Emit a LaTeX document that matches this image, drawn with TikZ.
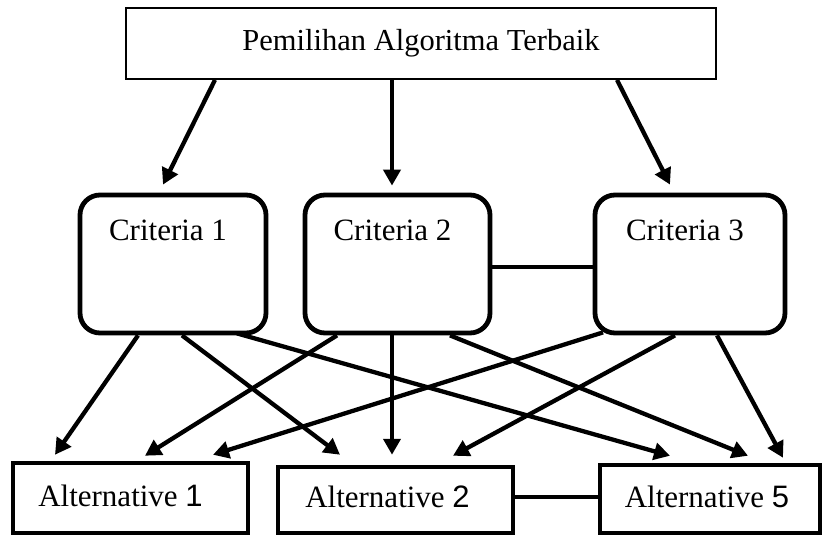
\documentclass[tikz,border=0pt]{standalone}
\usepackage{fontspec}
\setmainfont{Liberation Serif}
\newfontfamily\arialdig{Liberation Sans}
\usetikzlibrary{arrows.meta,calc}
\tikzset{
  topbox/.style={draw=black, line width=1.8pt, rectangle, minimum width=590pt, minimum height=71pt, inner sep=0pt, font=\fontsize{30.5}{36}\selectfont},
  critbox/.style={draw=black, line width=4.8pt, rectangle, rounded corners=20pt, minimum height=138pt, inner sep=0pt},
  altbox/.style={draw=black, line width=4.5pt, rectangle, inner sep=0pt},
  boxlabel/.style={anchor=center, inner sep=0pt, font=\fontsize{31}{36}\selectfont},
  arr/.style={line width=4.3pt, -{Triangle[length=16pt,width=17pt]}},
  link/.style={line width=4pt}
}
\begin{document}
\begin{tikzpicture}[x=1pt,y=-1pt]
\useasboundingbox (0,0) rectangle (823,536);
\node[topbox] (top) at (421,43.5) {Pemilihan Algoritma Terbaik};
\node[critbox, minimum width=186pt, label={[boxlabel,xshift=-5pt,yshift=-38pt]north:Criteria 1}] (c1) at (173,264) {};
\node[critbox, minimum width=185pt, label={[boxlabel,xshift=-5pt,yshift=-38pt]north:Criteria 2}] (c2) at (397.5,264) {};
\node[critbox, minimum width=190pt, label={[boxlabel,xshift=-5pt,yshift=-38pt]north:Criteria 3}] (c3) at (690,264) {};
\node[altbox, minimum width=235pt, minimum height=70pt, label={[boxlabel,xshift=-10pt,yshift=-35pt]north:Alternative {\arialdig 1}}] (a1) at (130.5,498) {};
\node[altbox, minimum width=235pt, minimum height=66pt, label={[boxlabel,xshift=-8pt,yshift=-32pt]north:Alternative {\arialdig 2}}] (a2) at (395.5,500) {};
\node[altbox, minimum width=220pt, minimum height=68pt, label={[boxlabel,xshift=-3pt,yshift=-34pt]north:Alternative {\arialdig 5}}] (a5) at (710,499) {};
% top arrows
\draw[arr] ($(top.south)+(215-421,0)$) -- ($(c1.north)+(163-173,-8)$);
\draw[arr] ($(top.south)+(392-421,0)$) -- ($(c2.north)+(392-397.5,-7)$);
\draw[arr] ($(top.south)+(617-421,0)$) -- ($(c3.north)+(670-690,-8)$);
% criteria 1
\draw[arr] ($(c1.south)+(138-173,0)$) -- ($(a1.north)+(55-130.5,-6)$);
\draw[arr] ($(c1.south)+(182-173,0)$) -- ($(a2.north)+(340-395.5,-10)$);
\draw[arr] ($(c1.south)+(237-173,-2)$) -- ($(a5.north)+(670-710,-7)$);
% criteria 2
\draw[arr] ($(c2.south)+(337-397.5,0)$) -- ($(a1.north)+(145-130.5,-5)$);
\draw[arr] ($(c2.south)+(392-397.5,0)$) -- ($(a2.north)+(392-395.5,-10)$);
\draw[arr] ($(c2.south)+(450-397.5,0)$) -- ($(a5.north)+(748-710,-7)$);
% criteria 3
\draw[arr] ($(c3.south)+(603-690,-3)$) -- ($(a1.north)+(213-130.5,-6)$);
\draw[arr] ($(c3.south)+(675-690,0)$) -- ($(a2.north)+(453-395.5,-9)$);
\draw[arr] ($(c3.south)+(717-690,0)$) -- ($(a5.north)+(783-710,-5)$);
% links
\draw[link] ($(c2.east)+(0,3)$) -- ($(c3.west)+(0,3)$);
\draw[link] ($(a2.east)+(0,-3)$) -- ($(a5.west)+(0,-2)$);
\end{tikzpicture}
\end{document}
